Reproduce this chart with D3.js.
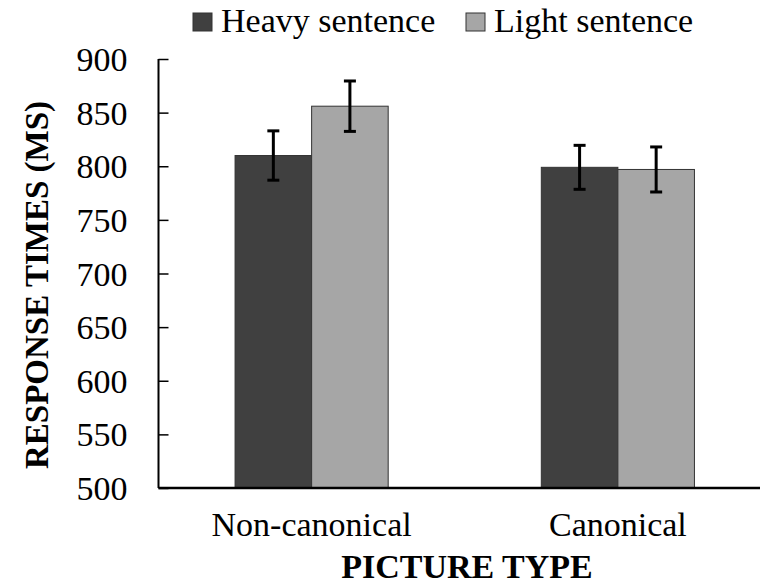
<!DOCTYPE html>
<html>
<head>
<meta charset="utf-8">
<script src="https://cdn.jsdelivr.net/npm/d3@7/dist/d3.min.js"></script>
<style>
  body { margin: 0; background: #fff; }
</style>
</head>
<body>
<svg id="chart" width="760" height="585"></svg>
<script>
// chart data
const categories = ["Non-canonical", "Canonical"];
const seriesNames = ["Heavy sentence", "Light sentence"];
const heavyValues = [810, 799];
const lightValues = [856, 797];
const heavyErrors = [23, 20.5];
const lightErrors = [23.5, 21];
const yTicks = [500, 550, 600, 650, 700, 750, 800, 850, 900];

const colors = ["#404040", "#a6a6a6"];
const serif = "'Liberation Serif', 'Times New Roman', Times, serif";
const svg = d3.select("#chart");

// plot area
const plotLeft = 158.5, plotRight = 771, plotTop = 59, plotBottom = 488;

const x = d3.scaleBand().domain(categories).range([plotLeft, plotRight]).padding(0);
const xs = d3.scaleBand().domain(seriesNames)
    .range([x.bandwidth() * 0.25, x.bandwidth() * 0.75]).padding(0);
const y = d3.scaleLinear().domain([500, 900]).range([plotBottom, plotTop]);

// rows for bars
const rows = [];
categories.forEach((c, i) => {
    rows.push({ cat: c, s: seriesNames[0], v: heavyValues[i], e: heavyErrors[i], col: colors[0] });
    rows.push({ cat: c, s: seriesNames[1], v: lightValues[i], e: lightErrors[i], col: colors[1] });
});

// bars
svg.append("g").selectAll("rect")
    .data(rows).enter().append("rect")
    .attr("x", d => x(d.cat) + xs(d.s))
    .attr("width", xs.bandwidth())
    .attr("y", d => y(d.v))
    .attr("height", d => y(500) - y(d.v))
    .attr("fill", d => d.col)
    .attr("stroke", "#333")
    .attr("stroke-width", 1);

// error bars
const eg = svg.append("g").attr("stroke", "#000").attr("stroke-width", 3);
rows.forEach(d => {
    const cx = x(d.cat) + xs(d.s) + xs.bandwidth() / 2;
    eg.append("line").attr("x1", cx).attr("x2", cx).attr("y1", y(d.v + d.e)).attr("y2", y(d.v - d.e));
    eg.append("line").attr("x1", cx - 6).attr("x2", cx + 6).attr("y1", y(d.v + d.e)).attr("y2", y(d.v + d.e));
    eg.append("line").attr("x1", cx - 6).attr("x2", cx + 6).attr("y1", y(d.v - d.e)).attr("y2", y(d.v - d.e));
});

// y axis (ticks pointing inward)
const yAxis = svg.append("g")
    .attr("transform", `translate(${plotLeft},0)`)
    .call(d3.axisLeft(y).tickValues(yTicks).tickSize(-10).tickPadding(31));
yAxis.attr("font-family", null).attr("font-size", null);
yAxis.selectAll("line").attr("stroke", "#000").attr("stroke-width", 1.5);
yAxis.select(".domain").attr("stroke", "#000").attr("stroke-width", 2).attr("d", `M0,${plotTop}V${plotBottom}`);
yAxis.selectAll("text").style("font-family", serif).style("font-size", "34px").attr("fill", "#000").attr("dy", "0.34em");

// x axis
const xAxis = svg.append("g")
    .attr("transform", `translate(0,${plotBottom})`)
    .call(d3.axisBottom(x).tickSize(0).tickPadding(24));
xAxis.attr("font-family", null).attr("font-size", null);
xAxis.select(".domain").attr("stroke", "#000").attr("stroke-width", 2.5).attr("d", `M${plotLeft},0H760`);
xAxis.selectAll("text").style("font-family", serif).style("font-size", "34px").attr("fill", "#000").attr("dy", "0.71em");

// axis titles
svg.append("text")
    .attr("x", 467).attr("y", 578)
    .attr("text-anchor", "middle")
    .style("font-family", serif)
    .style("font-size", "34px").style("font-weight", "bold")
    .text("PICTURE TYPE");

svg.append("text")
    .attr("transform", "translate(48,285) rotate(-90)")
    .attr("text-anchor", "middle")
    .style("font-family", serif)
    .style("font-size", "33px").style("font-weight", "bold")
    .text("RESPONSE TIMES (MS)");

// legend
const legendX = [193, 466];
const lg = svg.append("g");
seriesNames.forEach((s, i) => {
    lg.append("rect").attr("x", legendX[i]).attr("y", 13).attr("width", 19).attr("height", 18)
        .attr("fill", colors[i]).attr("stroke", "#333").attr("stroke-width", 1);
    lg.append("text").attr("x", legendX[i] + 28).attr("y", 32)
        .style("font-family", serif)
        .style("font-size", "34px").text(s);
});
</script>
</body>
</html>
